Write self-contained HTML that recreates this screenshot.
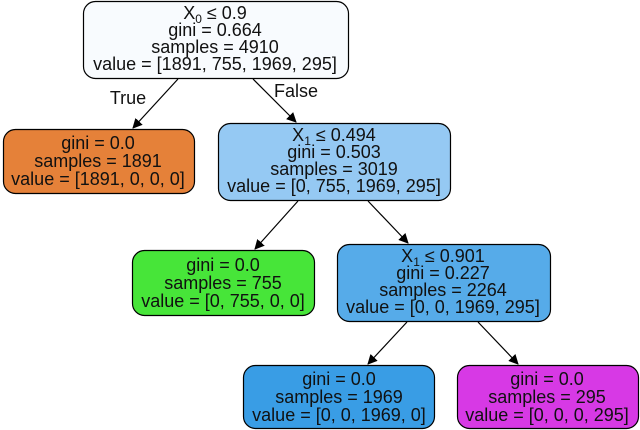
<!DOCTYPE html>
<html><head><meta charset="utf-8"><style>
html,body{margin:0;padding:0;background:#fff;}
svg{display:block;}
text{font-family:"Liberation Sans",sans-serif;font-size:18px;fill:#111;text-anchor:middle;}
</style></head><body>
<svg width="640" height="430" viewBox="0 0 640 430">
<defs><marker id="a" markerWidth="10" markerHeight="10" refX="9" refY="5" orient="auto" markerUnits="userSpaceOnUse"><path d="M0,0 L10,5 L0,10 z" fill="#000"/></marker></defs>
<g stroke="#000" stroke-width="1.2" fill="none">
<line x1="178" y1="79" x2="133" y2="128" marker-end="url(#a)"/>
<line x1="253" y1="79" x2="296" y2="122" marker-end="url(#a)"/>
<line x1="298" y1="201" x2="255" y2="249" marker-end="url(#a)"/>
<line x1="368" y1="201" x2="408" y2="243" marker-end="url(#a)"/>
<line x1="407" y1="322" x2="368" y2="364" marker-end="url(#a)"/>
<line x1="478" y1="322" x2="518" y2="364" marker-end="url(#a)"/>
</g>
<g stroke="#000" stroke-width="1.2">
<rect x="83.5" y="1.5" width="265" height="77" rx="12" fill="#f8fbfe"/>
<rect x="3.5" y="129.5" width="191" height="64" rx="12" fill="#e58139"/>
<rect x="218.5" y="123.5" width="232" height="77" rx="12" fill="#95c9f3"/>
<rect x="132.5" y="250.5" width="182" height="65" rx="12" fill="#47e539"/>
<rect x="337.5" y="244.5" width="213" height="77" rx="12" fill="#56abe9"/>
<rect x="243.5" y="365.5" width="191" height="63" rx="12" fill="#399de5"/>
<rect x="457.5" y="365.5" width="181" height="63" rx="12" fill="#d739e5"/>
</g>
<text x="128" y="104">True</text>
<text x="296" y="97">False</text>
<text x="215" y="19">X<tspan font-size="12" dy="4">0</tspan><tspan dy="-4"> ≤ 0.9</tspan></text>
<text x="215" y="36">gini = 0.664</text>
<text x="215" y="53">samples = 4910</text>
<text x="215" y="70">value = [1891, 755, 1969, 295]</text>
<text x="98" y="149">gini = 0.0</text>
<text x="98" y="167">samples = 1891</text>
<text x="98" y="185">value = [1891, 0, 0, 0]</text>
<text x="334" y="141">X<tspan font-size="12" dy="4">1</tspan><tspan dy="-4"> ≤ 0.494</tspan></text>
<text x="334" y="158">gini = 0.503</text>
<text x="334" y="175">samples = 3019</text>
<text x="334" y="192">value = [0, 755, 1969, 295]</text>
<text x="223" y="271">gini = 0.0</text>
<text x="223" y="289">samples = 755</text>
<text x="223" y="307">value = [0, 755, 0, 0]</text>
<text x="443" y="262">X<tspan font-size="12" dy="4">1</tspan><tspan dy="-4"> ≤ 0.901</tspan></text>
<text x="443" y="279">gini = 0.227</text>
<text x="443" y="296">samples = 2264</text>
<text x="443" y="313">value = [0, 0, 1969, 295]</text>
<text x="339" y="385">gini = 0.0</text>
<text x="339" y="403">samples = 1969</text>
<text x="339" y="421">value = [0, 0, 1969, 0]</text>
<text x="547" y="385">gini = 0.0</text>
<text x="547" y="403">samples = 295</text>
<text x="547" y="421">value = [0, 0, 0, 295]</text>
</svg>
</body></html>
